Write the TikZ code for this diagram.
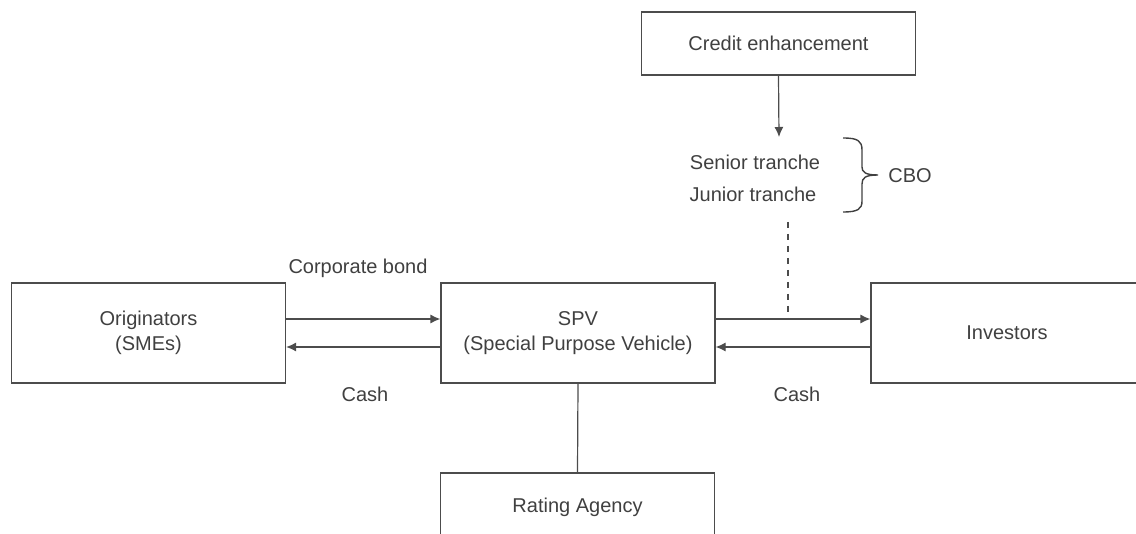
\documentclass[tikz,border=0pt]{standalone}
\usepackage{fontspec}
\setmainfont{Liberation Sans}
\usepackage{tikz}
\usetikzlibrary{positioning,arrows.meta}

\begin{document}
\begin{tikzpicture}[x=0.5pt,y=-0.5pt,
  box/.style={draw=black!70, line width=0.6pt, minimum width=137pt, minimum height=50pt, align=center, text=black!75, font=\fontsize{10}{12.5}\selectfont},
  lbl/.style={text=black!75, font=\fontsize{10}{12}\selectfont},
  flow/.style={draw=black!70, line width=0.6pt, -{Latex[length=5pt,width=4.5pt]}}]
\useasboundingbox (0,0) rectangle (1136,534);
\clip (0,0) rectangle (1136,534);
% boxes
\node[box, minimum height=31.5pt] (credit) at (778.5,43.5) {Credit enhancement};
\node[box] (orig) at (148.5,333) {Originators\\(SMEs)};
\node[box] (spv) at (578,333) {SPV\\(Special Purpose Vehicle)};
\node[box, minimum width=136pt] (inv) at (1007,333) {Investors};
\node[box, minimum height=34pt] (rating) at (577.5,507) {Rating Agency};
% tranches
\node[lbl] (senior) at (755,162) {Senior tranche};
\node[lbl] (junior) at (753,194) {Junior tranche};
\node[lbl] (cbo) at (910,176) {CBO};
\draw[draw=black!75, line width=0.7pt] (843,138) .. controls (858,138) and (862,141) .. (862,150)
  -- (862,167) .. controls (862,172) and (865,175) .. (878,175)
  (878,175) .. controls (865,175) and (862,178) .. (862,184)
  -- (862,201) .. controls (862,209) and (858,212) .. (843,212);
% arrows
\coordinate (enh) at (779,137);
\draw[flow] (credit.south) -- (enh);
\draw[flow] ([yshift=7pt]orig.east) -- ([yshift=7pt]spv.west);
\draw[flow] ([yshift=-7pt]spv.west) -- ([yshift=-7pt]orig.east);
\coordinate (bondout) at ([yshift=7pt]spv.east);
\draw[flow] (bondout) -- ([yshift=7pt]inv.west);
\draw[flow] ([yshift=-7pt]inv.west) -- ([yshift=-7pt]spv.east);
\coordinate (dashtop) at (788,222);
\draw[draw=black!70, line width=0.6pt, dashed] (dashtop) -- (dashtop |- bondout);
\draw[draw=black!70, line width=0.6pt] (spv.south) -- (rating.north);
% labels
\node[lbl] (bond) at (358,268) {Corporate bond};
\node[lbl] (cashl) at (365,394) {Cash};
\node[lbl] (cashr) at (797,394) {Cash};
\end{tikzpicture}
\end{document}
